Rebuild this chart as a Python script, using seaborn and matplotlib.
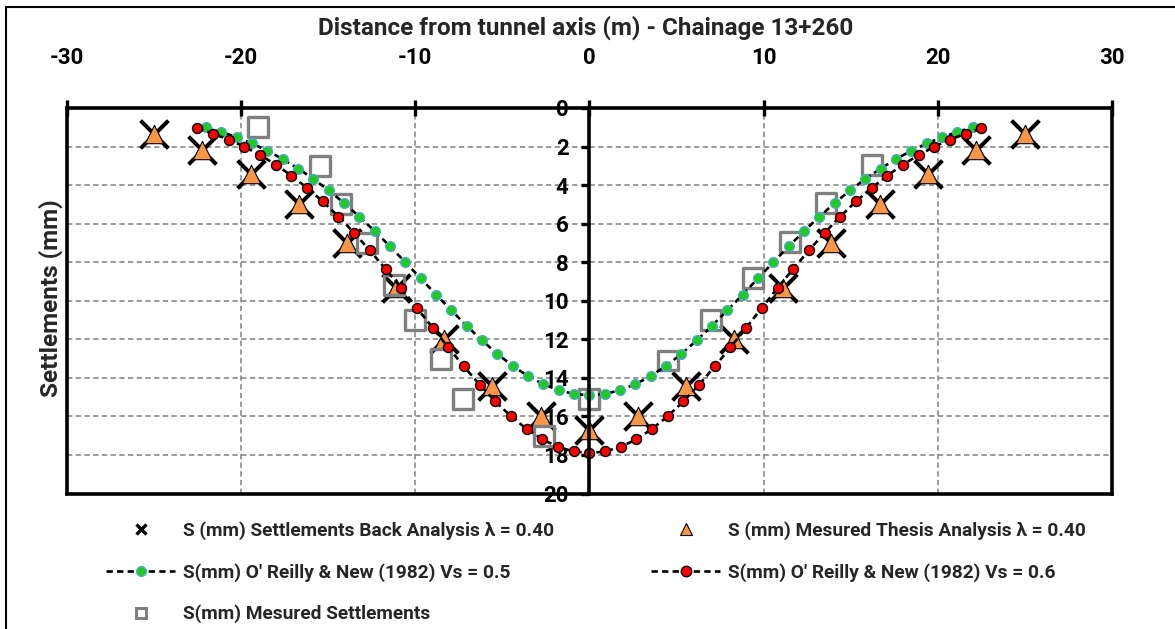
import matplotlib
matplotlib.use("Agg")
import matplotlib.pyplot as plt
from matplotlib.lines import Line2D
from matplotlib.patches import Rectangle
import seaborn as sns
import pandas as pd

# ---------------- data ----------------
back_x = [-25.0, -22.22, -19.44, -16.67, -13.89, -11.11, -8.33, -5.56, -2.78, 0.0,
          2.78, 5.56, 8.33, 11.11, 13.89, 16.67, 19.44, 22.22, 25.0]
back_y = [1.35, 2.2, 3.45, 5.0, 7.0, 9.35, 12.0, 14.4, 16.0, 16.7,
          16.0, 14.4, 12.0, 9.35, 7.0, 5.0, 3.45, 2.2, 1.35]

thesis_x = [-25.0, -22.22, -19.44, -16.67, -13.89, -11.11, -8.33, -5.56, -2.78, 0.0,
            2.78, 5.56, 8.33, 11.11, 13.89, 16.67, 19.44, 22.22, 25.0]
thesis_y = [1.35, 2.2, 3.45, 5.0, 7.0, 9.35, 12.0, 14.4, 16.0, 16.7,
            16.0, 14.4, 12.0, 9.35, 7.0, 5.0, 3.45, 2.2, 1.35]

vs05_x = [-22.0, -21.12, -20.24, -19.36, -18.48, -17.6, -16.72, -15.84, -14.96, -14.08,
          -13.2, -12.32, -11.44, -10.56, -9.68, -8.8, -7.92, -7.04, -6.16, -5.28,
          -4.4, -3.52, -2.64, -1.76, -0.88, 0.0, 0.88, 1.76, 2.64, 3.52,
          4.4, 5.28, 6.16, 7.04, 7.92, 8.8, 9.68, 10.56, 11.44, 12.32,
          13.2, 14.08, 14.96, 15.84, 16.72, 17.6, 18.48, 19.36, 20.24, 21.12, 22.0]
vs05_y = [1.00, 1.24, 1.52, 1.84, 2.22, 2.65, 3.14, 3.68, 4.28, 4.93,
          5.64, 6.39, 7.18, 8.00, 8.84, 9.68, 10.50, 11.30, 12.06, 12.76,
          13.38, 13.91, 14.33, 14.64, 14.84, 14.90, 14.84, 14.64, 14.33, 13.91,
          13.38, 12.76, 12.06, 11.30, 10.50, 9.68, 8.84, 8.00, 7.18, 6.39,
          5.64, 4.93, 4.28, 3.68, 3.14, 2.65, 2.22, 1.84, 1.52, 1.24, 1.00]

vs06_x = [-22.5, -21.6, -20.7, -19.8, -18.9, -18.0, -17.1, -16.2, -15.3, -14.4,
          -13.5, -12.6, -11.7, -10.8, -9.9, -9.0, -8.1, -7.2, -6.3, -5.4,
          -4.5, -3.6, -2.7, -1.8, -0.9, 0.0, 0.9, 1.8, 2.7, 3.6,
          4.5, 5.4, 6.3, 7.2, 8.1, 9.0, 9.9, 10.8, 11.7, 12.6,
          13.5, 14.4, 15.3, 16.2, 17.1, 18.0, 18.9, 19.8, 20.7, 21.6, 22.5]
vs06_y = [1.06, 1.33, 1.64, 2.01, 2.44, 2.94, 3.51, 4.15, 4.85, 5.63,
          6.48, 7.39, 8.35, 9.34, 10.37, 11.40, 12.42, 13.41, 14.35, 15.22,
          15.99, 16.65, 17.19, 17.58, 17.82, 17.90, 17.82, 17.58, 17.19, 16.65,
          15.99, 15.22, 14.35, 13.41, 12.42, 11.40, 10.37, 9.34, 8.35, 7.39,
          6.48, 5.63, 4.85, 4.15, 3.51, 2.94, 2.44, 2.01, 1.64, 1.33, 1.06]

meas_x = [-19.0, -15.45, -14.25, -12.75, -11.2, -10.0, -8.5, -7.25, -2.6, 0.0,
          4.5, 7.0, 9.4, 11.5, 13.6, 16.2]
meas_y = [1.0, 3.0, 5.0, 7.0, 9.2, 11.0, 13.0, 15.1, 17.0, 15.1,
          13.1, 11.0, 8.8, 6.95, 4.95, 2.95]

x_ticks = [-30, -20, -10, 0, 10, 20, 30]
y_ticks = [0, 2, 4, 6, 8, 10, 12, 14, 16, 18, 20]

labels = ["S (mm) Settlements Back Analysis \u03bb = 0.40",
          "S (mm) Mesured Thesis Analysis \u03bb = 0.40",
          "S(mm) O' Reilly & New (1982) Vs = 0.5",
          "S(mm) O' Reilly & New (1982) Vs = 0.6",
          "S(mm) Mesured Settlements"]
title = "Distance from tunnel axis (m) - Chainage 13+260"
ylabel = "Settlements (mm)"

# ---------------- style ----------------
sns.set_theme(style="white")
plt.rcParams["font.family"] = ["Roboto", "DejaVu Sans"]
plt.rcParams["font.weight"] = "bold"
plt.rcParams["axes.unicode_minus"] = False

ORANGE = "#F79646"
GREEN = "#1ECB1E"
GREEN_EDGE = "#4BACC6"
RED = "#FF0000"
GREY = "#808080"
DASH = (0, (2.4, 1.6))

W, H = 1175, 629
fig = plt.figure(figsize=(W / 100, H / 100), dpi=100)
L, R, T, B = 66.7, 1112.0, 108.0, 493.5
ax = fig.add_axes([L / W, 1 - B / H, (R - L) / W, (B - T) / H])

ax.set_xlim(-30, 30)
ax.set_ylim(20, 0)
ax.set_xticks(x_ticks)
ax.set_yticks(y_ticks)
ax.grid(True, color=GREY, linestyle=(0, (3.5, 2.2)), linewidth=1.1, zorder=0)
ax.set_axisbelow(True)

df_back = pd.DataFrame({"x": back_x, "y": back_y})
df_thesis = pd.DataFrame({"x": thesis_x, "y": thesis_y})
df_05 = pd.DataFrame({"x": vs05_x, "y": vs05_y})
df_06 = pd.DataFrame({"x": vs06_x, "y": vs06_y})
df_meas = pd.DataFrame({"x": meas_x, "y": meas_y})

sns.scatterplot(data=df_back, x="x", y="y", ax=ax, marker="x", s=400,
                color="black", linewidth=2.9, zorder=3, legend=False)
sns.scatterplot(data=df_thesis, x="x", y="y", ax=ax, marker="^", s=175,
                facecolor=ORANGE, edgecolor="black", linewidth=0.8, zorder=4, legend=False)
sns.scatterplot(data=df_meas, x="x", y="y", ax=ax, marker="s", s=207,
                facecolor="none", edgecolor=GREY, linewidth=2.4, zorder=5, legend=False)
sns.lineplot(data=df_05, x="x", y="y", ax=ax, sort=False, estimator=None,
             color="black", linewidth=1.9, linestyle=DASH,
             marker="o", markersize=7.0, markerfacecolor=GREEN,
             markeredgecolor=GREEN_EDGE, markeredgewidth=1.0, zorder=6, legend=False)
sns.lineplot(data=df_06, x="x", y="y", ax=ax, sort=False, estimator=None,
             color="black", linewidth=1.9, linestyle=DASH,
             marker="o", markersize=7.2, markerfacecolor=RED,
             markeredgecolor="black", markeredgewidth=1.0, zorder=7, legend=False)

for side in ["top", "right", "bottom", "left"]:
    ax.spines[side].set_visible(True)
    ax.spines[side].set_color("black")
    ax.spines[side].set_linewidth(2.6)
    ax.spines[side].set_zorder(8)
ax.spines["left"].set_position(("data", 0))
ax.axvline(-30, color="black", linewidth=2.6, zorder=8, clip_on=False)

ax.xaxis.tick_top()
ax.tick_params(axis="x", which="both", top=True, bottom=False, labeltop=True,
               labelbottom=False, direction="inout", length=12, width=2.4,
               pad=22, labelsize=16, colors="black")
ax.tick_params(axis="y", which="both", left=True, right=False, direction="out",
               length=6, width=2.4, pad=9, labelsize=16, colors="black")
for lab in ax.get_xticklabels() + ax.get_yticklabels():
    lab.set_fontweight("bold")
ax.set_xlabel("")
ax.set_ylabel("")

fig.text((L + R) / 2 / W - 4 / W, 1 - 28 / H, title, ha="center", va="center",
         fontsize=17.5, fontweight="bold")
fig.text(51 / W, 1 - 298 / H, ylabel, ha="center", va="center",
         rotation=90, fontsize=17.5, fontweight="bold")

h_back = Line2D([], [], linestyle="none", marker="x", markersize=7.5, color="black",
                markeredgewidth=2.4)
h_thesis = Line2D([], [], linestyle="none", marker="^", markersize=8,
                  markerfacecolor=ORANGE, markeredgecolor="black", markeredgewidth=0.8)
h_05 = Line2D([], [], color="black", linewidth=1.9, linestyle=DASH,
              marker="o", markersize=7, markerfacecolor=GREEN,
              markeredgecolor=GREEN_EDGE, markeredgewidth=1.0)
h_06 = Line2D([], [], color="black", linewidth=1.9, linestyle=DASH,
              marker="o", markersize=7.5, markerfacecolor=RED,
              markeredgecolor="black", markeredgewidth=1.0)
h_meas = Line2D([], [], linestyle="none", marker="s", markersize=6.5,
                markerfacecolor="none", markeredgecolor=GREY, markeredgewidth=2.2)

leg_kw = dict(frameon=False, fontsize=13.8, handlelength=3.6, handletextpad=0.42,
              labelspacing=1.2, borderpad=0, borderaxespad=0, loc="upper left")
leg1 = fig.legend([h_back, h_05, h_meas], [labels[0], labels[2], labels[4]],
                  bbox_to_anchor=(106 / W, 1 - 521 / H), **leg_kw)
leg2 = fig.legend([h_thesis, h_06], [labels[1], labels[3]],
                  bbox_to_anchor=(651 / W, 1 - 521 / H), **leg_kw)
for leg in (leg1, leg2):
    for t in leg.get_texts():
        t.set_fontweight("bold")

fig.patches.append(Rectangle((6 / W, -0.02), 1.0, 1.02 - 7 / H,
                             transform=fig.transFigure, fill=False,
                             edgecolor="black", linewidth=1.5))

fig.savefig("out.png", dpi=100, facecolor="white")
